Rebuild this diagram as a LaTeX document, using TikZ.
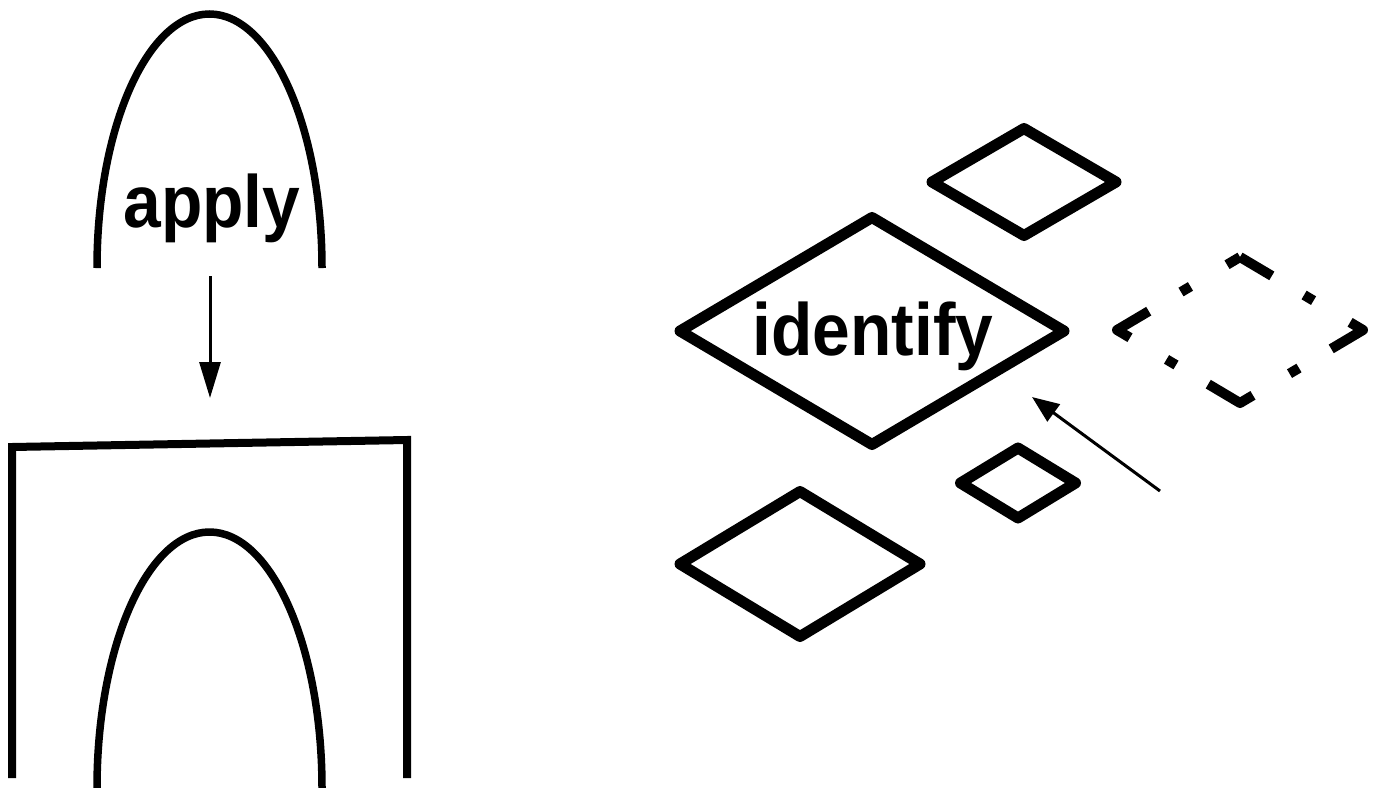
\documentclass[tikz,border=0pt]{standalone}
\usepackage{fontspec}
\setmainfont{Liberation Sans}
\usepackage{graphicx}
\usepackage{tikz}
\usetikzlibrary{shapes.geometric, arrows.meta, positioning}

\tikzset{
  arch/.style={line width=3.75pt},
  frame/.style={line width=4pt, line join=miter},
  shapebox/.style={diamond, draw, line width=5.5pt, line join=round, inner sep=0pt, outer sep=0pt},
  ghostline/.style={line width=5pt, line join=round, dash pattern=on 26pt off 18.75pt on 5.5pt off 21.25pt, dash phase=7.5pt},
  wordtext/.style={font=\fontsize{37pt}{40pt}\selectfont\bfseries, inner sep=0pt, anchor=base},
  pointer/.style={-{Triangle[length=#1, width=10.5pt]}, line width=1.5pt},
  pointer/.default=18pt
}

\begin{document}
\begin{tikzpicture}[x=0.5pt, y=-0.5pt]
  \useasboundingbox (0,0) rectangle (1380,787);

  % left: apply
  \draw[arch] (97,268) arc[start angle=180, end angle=360, x radius=112.5, y radius=254];
  \node[wordtext] (apply) at (212,227) {\scalebox{0.915}[1]{apply}};
  \coordinate (applyout) at (210,276);
  \coordinate (framein) at (210,398);
  \draw[pointer] (applyout) -- (framein);
  \draw[frame] (12,778) -- (12,447) -- (407,440) -- (407,778);
  \draw[arch] (97,788) arc[start angle=180, end angle=360, x radius=112.5, y radius=256];

  % right: identify
  \node[shapebox, minimum width=192pt, minimum height=113.5pt] (idbox) at (872,331) {};
  \node[wordtext] (identify) at (873,355) {\scalebox{0.915}[1]{identify}};
  \node[shapebox, minimum width=92pt, minimum height=53.5pt] (topbox) at (1024,182) {};
  \node[shapebox, minimum width=57.5pt, minimum height=35pt] (smallbox) at (1018,483) {};
  \node[shapebox, minimum width=120pt, minimum height=72.5pt] (lowbox) at (800,564) {};
  \node[shapebox, draw=none, minimum width=123pt, minimum height=73pt] (ghost) at (1240,330) {};
  \draw[ghostline] (ghost.north) -- (ghost.east) -- (ghost.south) -- (ghost.west) -- cycle;

  \coordinate (hintstart) at (1160,491);
  \coordinate (hintend) at (1032,397);
  \draw[pointer=13.5pt] (hintstart) -- (hintend);
\end{tikzpicture}
\end{document}
